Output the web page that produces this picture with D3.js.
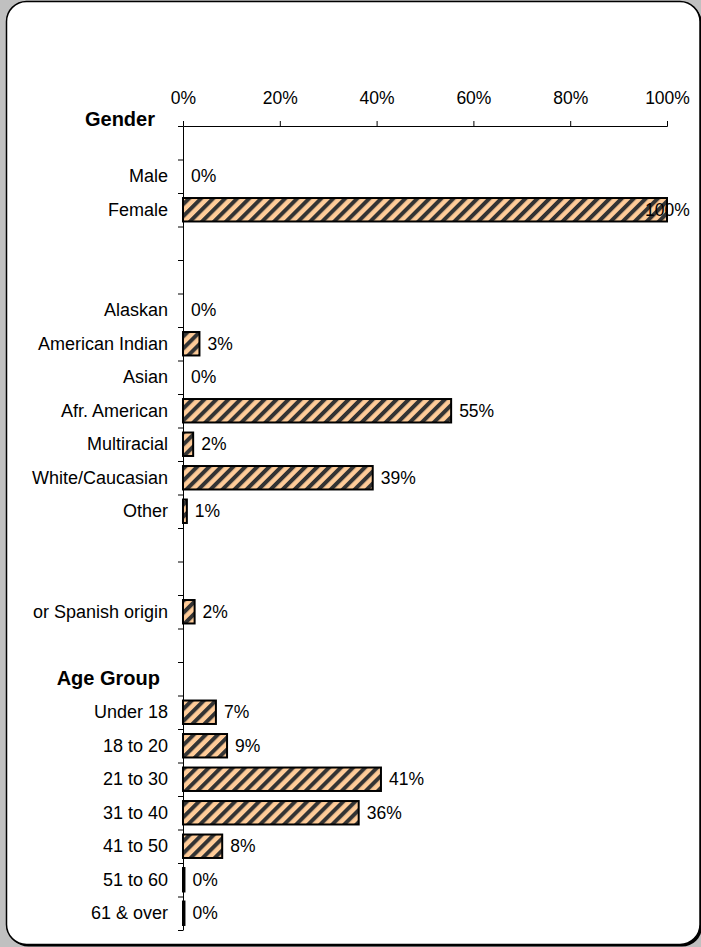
<!DOCTYPE html>
<html>
<head>
<meta charset="utf-8">
<script src="https://cdn.jsdelivr.net/npm/d3@7"></script>
<style>
  body { margin: 0; background: #c0c0c0; }
  text { font-family: "Liberation Sans", Arial, sans-serif; }
</style>
</head>
<body>
<div id="chart"></div>
<script>
// rows of the chart, blanks are empty spacer rows
const categories = ["", "Male", "Female", "", "", "Alaskan", "American Indian", "Asian",
    "Afr. American", "Multiracial", "White/Caucasian", "Other", "", "", "or Spanish origin",
    "", "", "Under 18", "18 to 20", "21 to 30", "31 to 40", "41 to 50", "51 to 60", "61 & over"];

// percent values (null = no bar on that row)
const values = [null, 0, 100, null, null, 0, 3.4, 0, 55.4, 2.1, 39.2, 0.8, null, null, 2.4,
    null, null, 6.8, 9.1, 40.9, 36.3, 8.1, 0.3, 0.3];

const tickValues = [0, 20, 40, 60, 80, 100];

// bold section headings and the row they sit on
const headers = ["Gender", "Age Group"];
const headerRows = [0, 16.5];

const width = 701,
      height = 947,
      margin = ({ top: 126, right: 34, bottom: 17, left: 183 });

let svg = d3.select("#chart")
    .append("svg")
    .attr("width", width)
    .attr("height", height);

// pattern for the striped bars
let pat = svg.append("defs").append("pattern")
    .attr("id", "hatch")
    .attr("patternUnits", "userSpaceOnUse")
    .attr("width", 8.5)
    .attr("height", 8.5)
    .attr("patternTransform", "rotate(45)");
pat.append("rect")
    .attr("width", 8.5).attr("height", 8.5)
    .attr("fill", "#ffcc99");
pat.append("rect")
    .attr("width", 4).attr("height", 8.5)
    .attr("fill", "#333");

// frame with a shadow
svg.append("rect")
    .attr("x", 8.5).attr("y", 3.5)
    .attr("width", 693.5).attr("height", 943)
    .attr("rx", 20)
    .attr("fill", "#000");
svg.append("rect")
    .attr("x", 6.5).attr("y", 1.5)
    .attr("width", 693.5).attr("height", 943)
    .attr("rx", 20)
    .attr("fill", "white")
    .attr("stroke", "#000")
    .attr("stroke-width", 1.5);

let x = d3.scaleLinear()
    .domain([0, 100])
    .range([margin.left, width - margin.right]); // 183 -> 667

let y = d3.scaleBand()
    .domain(d3.range(categories.length))
    .range([margin.top, height - margin.bottom])
    .paddingInner(0.3)
    .paddingOuter(0.15);

// row edges, for the tick marks between categories
let yEdge = d3.scaleLinear()
    .domain([0, categories.length])
    .range([margin.top, height - margin.bottom]);

// top axis
svg.append("g")
    .attr("transform", `translate(0,${margin.top})`)
    .call(d3.axisTop(x).tickValues(tickValues).tickSize(5).tickPadding(17).tickFormat(d => d + "%"))
    .call(g => g.selectAll("text").attr("font-size", 17.5).attr("fill", "#000").attr("font-family", null))
    .call(g => g.selectAll("line,path").attr("stroke", "#000"));

// left axis: ticks at every row edge
svg.append("g")
    .attr("transform", `translate(${margin.left},0)`)
    .call(d3.axisLeft(yEdge).tickValues(d3.range(categories.length + 1)).tickSize(5).tickSizeOuter(0).tickFormat(""))
    .call(g => g.selectAll("line,path").attr("stroke", "#000"));

// category labels
svg.append("g")
    .attr("transform", `translate(${margin.left},0)`)
    .call(d3.axisLeft(y).tickSize(0).tickPadding(15).tickFormat(i => categories[i]))
    .call(g => g.select(".domain").remove())
    .call(g => g.selectAll("text").attr("font-size", 18).attr("fill", "#000").attr("font-family", null));

// headings
svg.selectAll(".header")
    .data(headers)
    .join("text")
    .attr("class", "header")
    .attr("x", (d, i) => i == 0 ? 155 : 160)
    .attr("y", (d, i) => i == 0 ? yEdge(headerRows[i]) : yEdge(headerRows[i]) + 6)
    .attr("text-anchor", "end")
    .attr("font-size", 20)
    .attr("font-weight", "bold")
    .text(d => d);

let rows = values.map((v, i) => ({ i: i, v: v })).filter(d => d.v !== null);

svg.selectAll(".bar")
    .data(rows.filter(d => d.v > 0))
    .join("rect")
    .attr("class", "bar")
    .attr("x", x(0))
    .attr("y", d => y(d.i))
    .attr("width", d => x(d.v) - x(0))
    .attr("height", y.bandwidth())
    .attr("fill", "url(#hatch)")
    .attr("stroke", "#000")
    .attr("stroke-width", 2);

// value labels, kept inside the frame for the 100% bar
svg.selectAll(".val")
    .data(rows)
    .join("text")
    .attr("class", "val")
    .attr("x", d => Math.min(x(d.v) + 8, x(100) - 22))
    .attr("y", d => y(d.i) + y.bandwidth() / 2)
    .attr("dy", "0.35em")
    .attr("font-size", 17.5)
    .text(d => Math.round(d.v) + "%");
</script>
</body>
</html>
